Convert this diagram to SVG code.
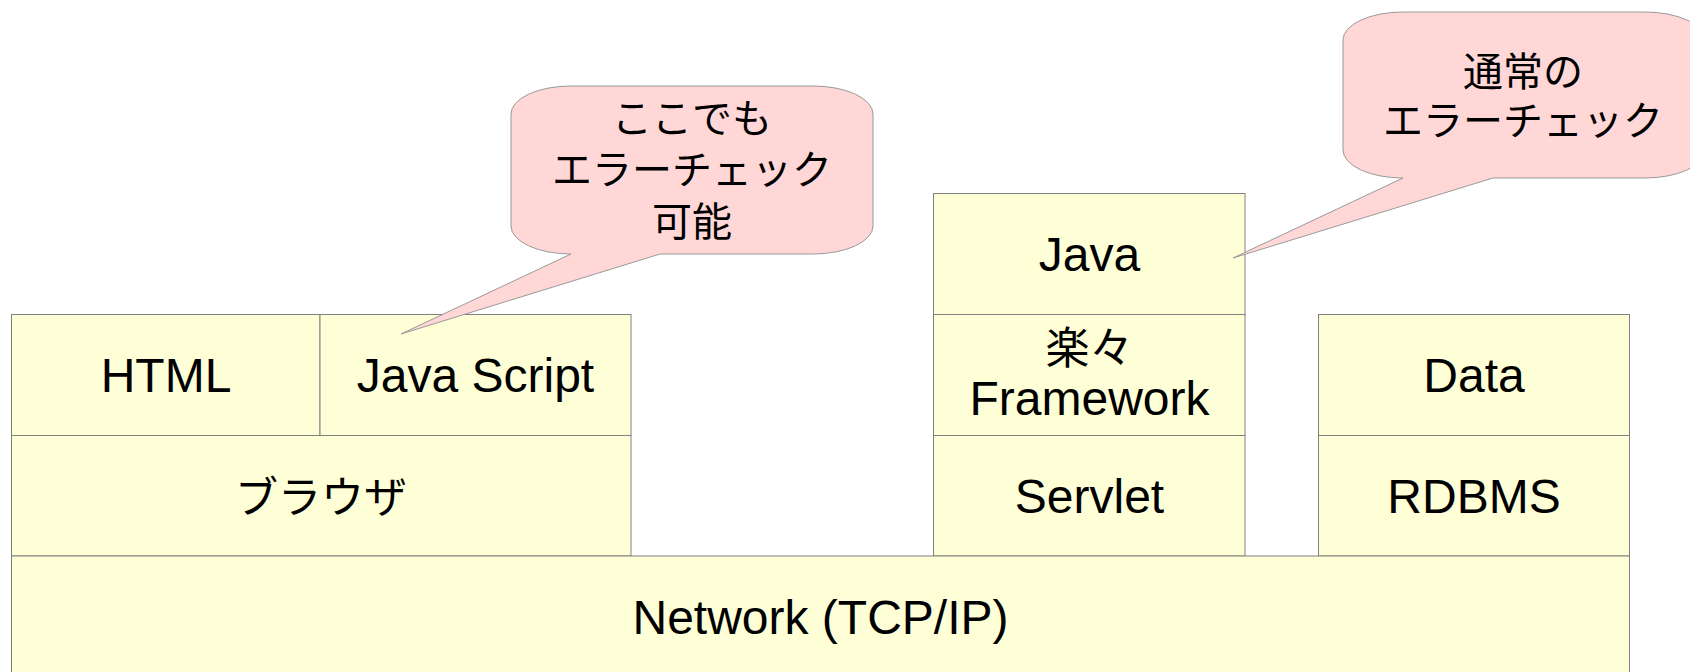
<svg xmlns="http://www.w3.org/2000/svg" width="1690" height="672" viewBox="0 0 1690 672">
  <style>
    .box { fill: #ffffd7; stroke: #808080; stroke-width: 1; }
    .bubble { fill: #ffd7d7; stroke: #999999; stroke-width: 1; stroke-linejoin: round; }
    text { fill: #000000; text-anchor: middle; }
    .lat { font-family: "Liberation Sans", Arial, sans-serif; font-size: 48px; }
    .jp { font-family: "Noto Sans CJK JP", "Liberation Sans", sans-serif; font-size: 43px; }
    .note { font-family: "Noto Sans CJK JP", "Liberation Sans", sans-serif; font-size: 40px; }
  </style>
  <rect width="1690" height="672" fill="#ffffff"/>

  <!-- client stack -->
  <g id="html">
    <rect class="box" x="11.5" y="314.5" width="308.5" height="121"/>
    <text class="lat" x="166" y="392">HTML</text>
  </g>
  <g id="javascript">
    <rect class="box" x="320" y="314.5" width="311" height="121"/>
    <text class="lat" x="475.5" y="392">Java Script</text>
  </g>
  <g id="browser">
    <rect class="box" x="11.5" y="435.5" width="619.5" height="120.5"/>
    <text class="jp" x="321" y="513">ブラウザ</text>
  </g>

  <!-- server stack -->
  <g id="java">
    <rect class="box" x="933.5" y="193.5" width="311.5" height="121"/>
    <text class="lat" x="1089.5" y="271">Java</text>
  </g>
  <g id="framework">
    <rect class="box" x="933.5" y="314.5" width="311.5" height="121"/>
    <text class="jp" x="1089.5" y="364" style="font-size:44px">楽々</text>
    <text class="lat" x="1089.5" y="415">Framework</text>
  </g>
  <g id="servlet">
    <rect class="box" x="933.5" y="435.5" width="311.5" height="120.5"/>
    <text class="lat" x="1089.5" y="513">Servlet</text>
  </g>

  <!-- database stack -->
  <g id="data">
    <rect class="box" x="1318.5" y="314.5" width="311" height="121"/>
    <text class="lat" x="1474" y="392">Data</text>
  </g>
  <g id="rdbms">
    <rect class="box" x="1318.5" y="435.5" width="311" height="120.5"/>
    <text class="lat" x="1474" y="513">RDBMS</text>
  </g>

  <!-- shared base layer -->
  <g id="network">
    <rect class="box" x="11.5" y="556" width="1618" height="130"/>
    <text class="lat" x="820.5" y="634">Network (TCP/IP)</text>
  </g>

  <!-- speech bubbles -->
  <g id="note-client">
    <path class="bubble" d="M 571,86 H 813 A 60 28 0 0 1 873 114 V 226 A 60 28 0 0 1 813 254 H 660 L 401 334 L 571 254 A 60 28 0 0 1 511 226 V 114 A 60 28 0 0 1 571 86 Z"/>
    <text class="note" x="692" y="133">ここでも</text>
    <text class="note" x="692" y="184">エラーチェック</text>
    <text class="note" x="692" y="236">可能</text>
  </g>
  <g id="note-server">
    <path class="bubble" d="M 1403,12 H 1645 A 60 28 0 0 1 1705 40 V 150 A 60 28 0 0 1 1645 178 H 1493 L 1233 258 L 1403 178 A 60 28 0 0 1 1343 150 V 40 A 60 28 0 0 1 1403 12 Z"/>
    <text class="note" x="1523" y="86">通常の</text>
    <text class="note" x="1523" y="135">エラーチェック</text>
  </g>
</svg>
